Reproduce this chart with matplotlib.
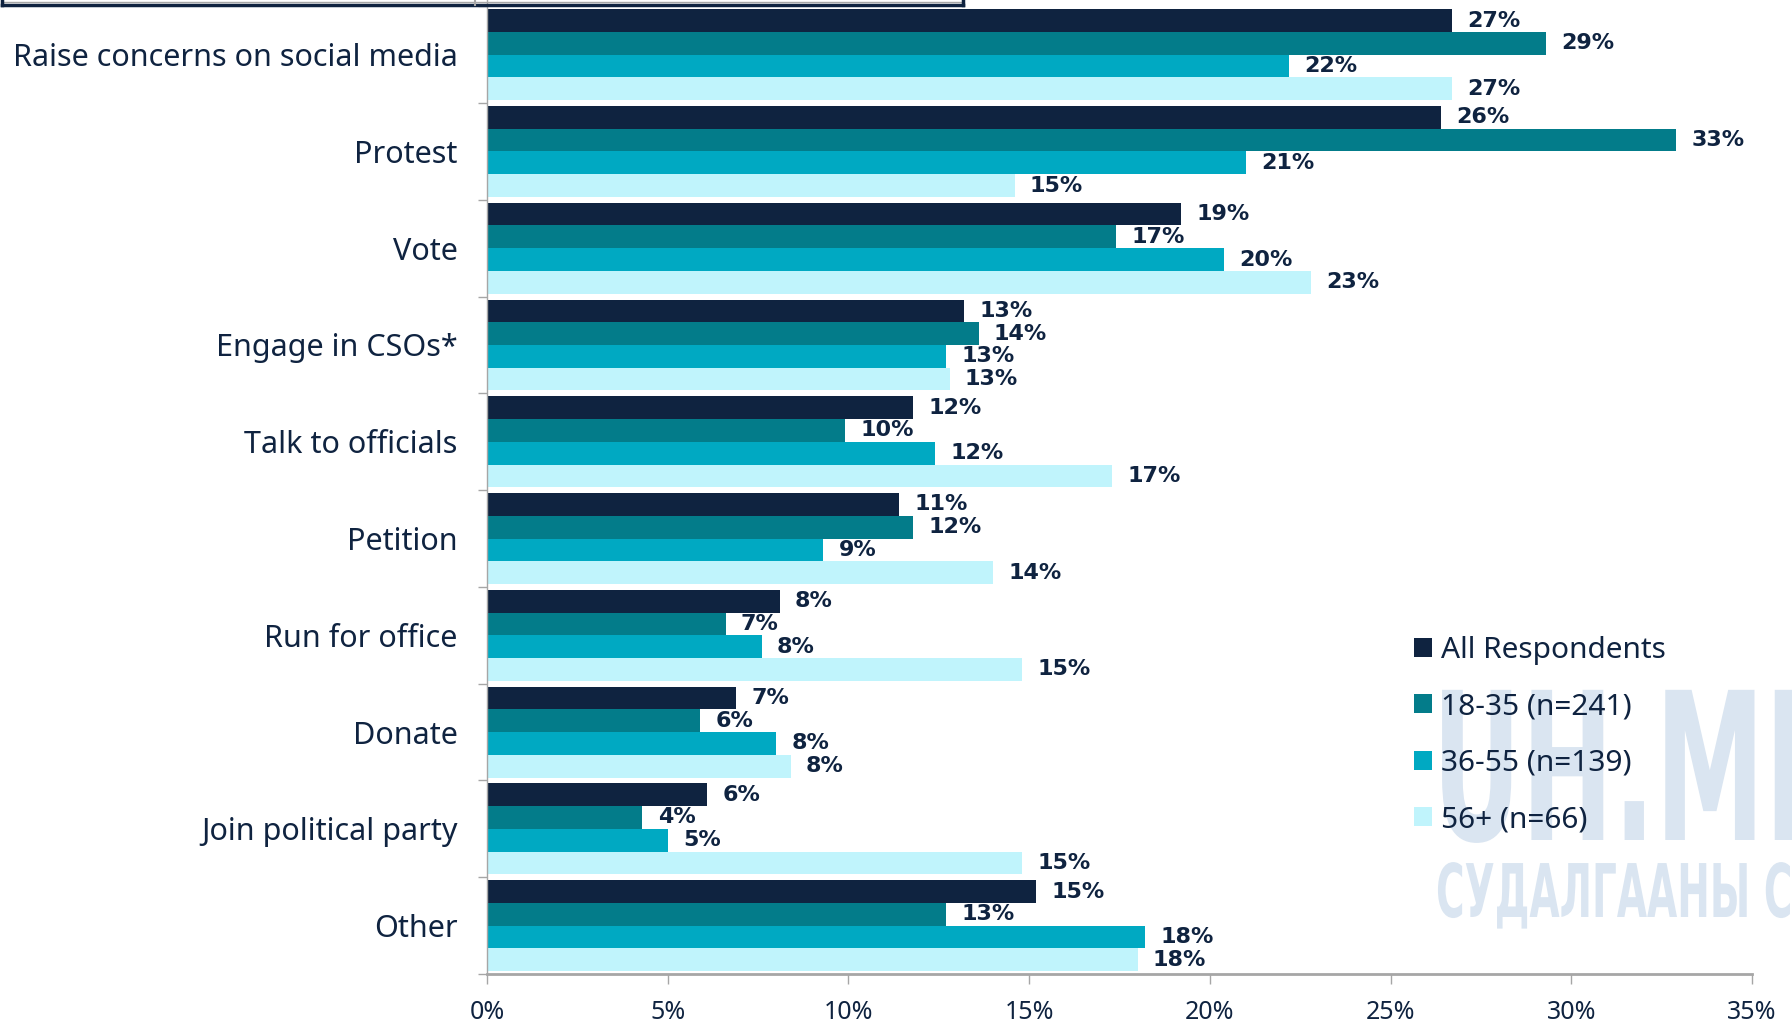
import numpy as np
import matplotlib
matplotlib.use("Agg")
import matplotlib.pyplot as plt
from matplotlib.textpath import TextPath
from matplotlib.patches import PathPatch
from matplotlib.font_manager import FontProperties
from matplotlib.lines import Line2D
import matplotlib.transforms as mtransforms

# data (share of respondents, %)
categories = ["Raise concerns on social media", "Protest", "Vote", "Engage in CSOs*",
              "Talk to officials", "Petition", "Run for office", "Donate",
              "Join political party", "Other"]
all_resp = [26.7, 26.4, 19.2, 13.2, 11.8, 11.4, 8.1, 6.9, 6.1, 15.2]
age_18_35 = [29.3, 32.9, 17.4, 13.6, 9.9, 11.8, 6.6, 5.9, 4.3, 12.7]
age_36_55 = [22.2, 21.0, 20.4, 12.7, 12.4, 9.3, 7.6, 8.0, 5.0, 18.2]
age_56_up = [26.7, 14.6, 22.8, 12.8, 17.3, 14.0, 14.8, 8.4, 14.8, 18.0]
series_names = ["All Respondents", "18-35 (n=241)", "36-55 (n=139)", "56+ (n=66)"]
colors = ["#0F2340", "#037C8A", "#00A9C2", "#C0F4FC"]
xticks = [0, 5, 10, 15, 20, 25, 30, 35]

navy = "#0F2340"
grey = "#A6A6A6"
font = "Noto Sans"

W, H = 1792, 1030
fig = plt.figure(figsize=(W / 100, H / 100), dpi=100)

# faint watermark behind everything
fp = FontProperties(family="DejaVu Sans", weight="bold")
def watermark(txt, x0, base, sx, sy):
    tp = TextPath((0, 0), txt, size=1, prop=fp)
    tr = mtransforms.Affine2D().scale(sx / W, sy / H).translate(x0 / W, (H - base) / H) + fig.transFigure
    fig.add_artist(PathPatch(tp, transform=tr, facecolor="#DAE5F1", edgecolor="none", zorder=-5))

watermark("UH.MN", 1432, 840, 110, 206)
watermark("СУДАЛГААНЫ САН", 1436, 917, 39, 74)

ax = fig.add_axes([487 / W, 56 / H, (1752 - 487) / W, 974 / H])
ax.patch.set_alpha(0)

y = np.arange(len(categories))
h = 0.235
series = [all_resp, age_18_35, age_36_55, age_56_up]
for j, vals in enumerate(series):
    pos = y + (j - 1.5) * h
    ax.barh(pos, vals, height=h, color=colors[j], label=series_names[j], zorder=2)
    for p, v in zip(pos, vals):
        ax.annotate(f"{v:.0f}%", (v, p), xytext=(11, 0), textcoords="offset points",
                    ha="left", va="center", fontsize=16, fontweight="bold",
                    color=navy, family="DejaVu Sans", zorder=3)

ax.set_xlim(0, 35)
ax.set_ylim(9.49, -0.565)
ax.set_xticks(xticks)
ax.set_xticklabels([f"{t}%" for t in xticks], fontsize=18, color=navy, family=font)
ax.set_yticks(y)
ax.set_yticklabels(categories, fontsize=22, color=navy, family=font)
ax.set_yticks(np.arange(-0.5, len(categories)), minor=True)
ax.tick_params(axis="y", which="major", length=0, pad=21)
ax.tick_params(axis="y", which="minor", length=6.5, color=grey, width=1)
ax.tick_params(axis="x", length=7.5, color=grey, width=1, pad=11)

for s in ["top", "right"]:
    ax.spines[s].set_visible(False)
ax.spines["left"].set_color(grey)
ax.spines["left"].set_linewidth(1)
ax.spines["bottom"].set_color(grey)
ax.spines["bottom"].set_linewidth(2)

leg = ax.legend(loc="upper left", bbox_to_anchor=(1414 / W, 1 - 636 / H),
                bbox_transform=fig.transFigure, frameon=False,
                handlelength=0.6, handleheight=0.6, handletextpad=0.3,
                labelspacing=0.92, borderpad=0, borderaxespad=0,
                prop={"family": font, "size": 21.5})
for t in leg.get_texts():
    t.set_color(navy)

# cut-off title box at the very top
for xs, ys, c, lw in [([2, 963], [4.5, 4.5], navy, 2.5), ([2, 963], [2, 2], grey, 1),
                      ([2, 2], [0, 5], navy, 2.5), ([963, 963], [0, 5], navy, 2.5),
                      ([475, 475], [0, 5], grey, 1.5)]:
    fig.add_artist(Line2D([x / W for x in xs], [1 - v / H for v in ys], color=c, lw=lw))

fig.savefig("out.png", dpi=100)
